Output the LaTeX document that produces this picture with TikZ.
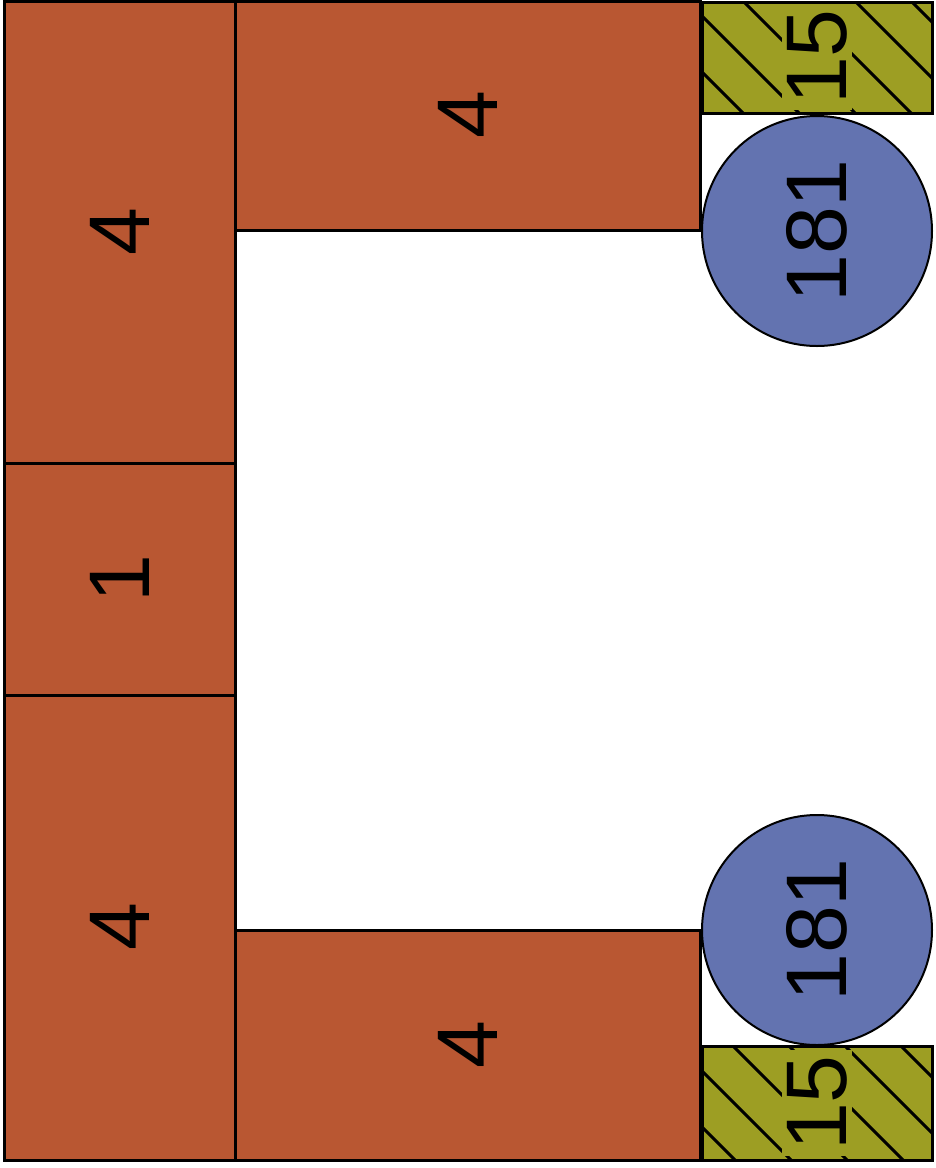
\documentclass[tikz,border=0pt]{standalone}
\usepackage{fontspec}
\setmainfont{Liberation Sans}
\usepackage{xcolor}

\definecolor{brick}{RGB}{185,87,50}
\definecolor{steel}{RGB}{99,115,176}
\definecolor{olive}{RGB}{157,158,35}

\begin{document}
\begin{tikzpicture}[x=0.5pt,y=-0.5pt]
    \tikzstyle{every node}=[inner sep=0pt, rotate=90, font=\fontsize{43}{46}\selectfont]
    \tikzstyle{brickbox}=[draw, line width=1.5pt, fill=brick]
    \tikzstyle{hatchbox}=[draw, line width=1.5pt]
    \tikzstyle{hatchline}=[line width=1.5pt]
    \tikzstyle{roundend}=[draw, line width=1pt, fill=steel]

    \useasboundingbox (0,0) rectangle (936,1168);

    % left column
    \draw[brickbox] (4,1) rectangle (235,463);
    \draw[brickbox] (4,463) rectangle (235,695);
    \draw[brickbox] (4,695) rectangle (235,1160);

    % arms
    \draw[brickbox] (235,1) rectangle (700,230);
    \draw[brickbox] (235,930) rectangle (700,1160);

    % hatched ends
    \fill[olive] (702,2) rectangle (932,113);
    \begin{scope}
        \clip (702,2) rectangle (932,113);
        \foreach \s in {574,630,...,966}
            \draw[hatchline] (\s-10,-10) -- (\s+130,130);
    \end{scope}
    \draw[hatchbox] (702,2) rectangle (932,113);

    \fill[olive] (702,1046) rectangle (932,1160);
    \begin{scope}
        \clip (702,1046) rectangle (932,1160);
        \foreach \s in {621,677,...,957}
            \draw[hatchline] (\s-10,1036) -- (\s+130,1176);
    \end{scope}
    \draw[hatchbox] (702,1046) rectangle (932,1160);

    % round ends
    \draw[roundend] (817,231) circle (115);
    \draw[roundend] (817,930) circle (115);

    % labels
    \node (top4) at (119.5,232) {4};
    \node (mid1) at (119.5,579) {1};
    \node (bot4) at (119.5,927) {4};
    \node (arm4a) at (467.5,115) {4};
    \node (arm4b) at (467.5,1045) {4};
    \node[fill=olive, inner sep=2.5pt] (end15a) at (817,57) {15};
    \node[fill=olive, inner sep=2.5pt] (end15b) at (817,1103) {15};
    \node (ring181a) at (817,231) {181};
    \node (ring181b) at (817,930) {181};
\end{tikzpicture}
\end{document}
